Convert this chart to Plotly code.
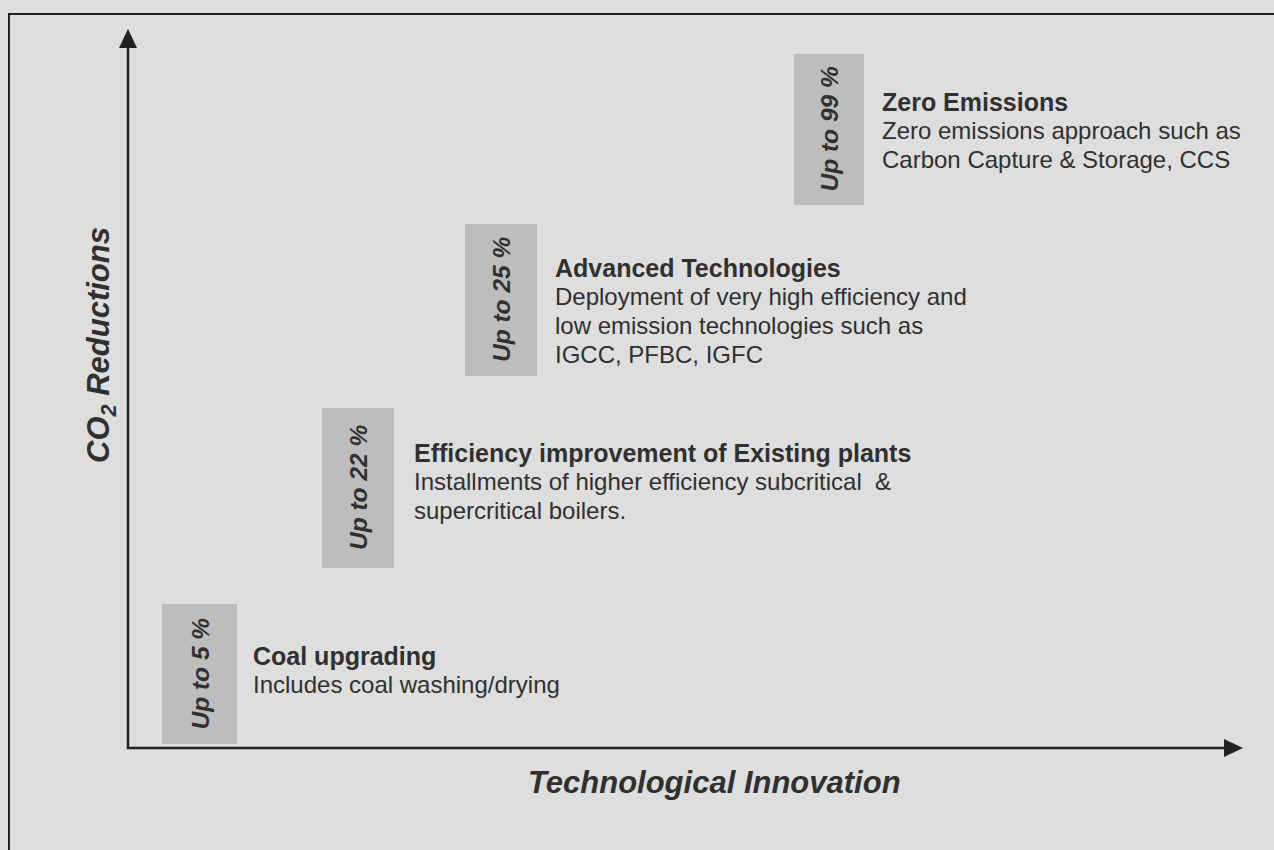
import plotly.graph_objects as go

### Diagram content ###
stages = ['Coal upgrading', 'Efficiency improvement of Existing plants',
          'Advanced Technologies', 'Zero Emissions']
reduction_pct = [5, 22, 25, 99]
descriptions = [
    ['Includes coal washing/drying'],
    ['Installments of higher efficiency subcritical  &', 'supercritical boilers.'],
    ['Deployment of very high efficiency and', 'low emission technologies such as', 'IGCC, PFBC, IGFC'],
    ['Zero emissions approach such as', 'Carbon Capture & Storage, CCS'],
]
x_title = 'Technological Innovation'
y_title = 'CO<sub>2</sub> Reductions'

### Layout of the steps (pixel space, y grows downwards) ###
box_left = [162, 322, 465, 794]
box_right = [237, 394, 537, 864]
box_top = [604, 408, 224, 54]
box_bottom = [744, 568, 376, 205]
text_left = [251, 412, 553, 880]
text_first = [656, 453, 268, 102]
line_gap = 28.7

bg = '#dedede'
box_color = '#bdbdbd'
ink = '#303030'
font = 'Liberation Sans, Arial, sans-serif'

fig = go.Figure()

fig.add_trace(go.Bar(
    x=[(l + r) / 2 for l, r in zip(box_left, box_right)],
    y=[b - t for t, b in zip(box_top, box_bottom)],
    base=box_top,
    width=[r - l for l, r in zip(box_left, box_right)],
    marker_color=box_color,
    marker_line_width=0,
    hoverinfo='skip',
    showlegend=False,
))

annotations = []
for i, stage in enumerate(stages):
    annotations.append(dict(
        x=(box_left[i] + box_right[i]) / 2, y=(box_top[i] + box_bottom[i]) / 2,
        xref='x', yref='y', text=f'<b><i>Up to {reduction_pct[i]} %</i></b>',
        textangle=-90, showarrow=False, font=dict(family=font, size=24.5, color=ink),
    ))
    lines = [f'<b>{stage}</b>'] + descriptions[i]
    for j, line in enumerate(lines):
        annotations.append(dict(
            x=text_left[i], y=text_first[i] + j * line_gap, xref='x', yref='y',
            text=line, showarrow=False, xanchor='left', yanchor='middle',
            font=dict(family=font, size=25 if j == 0 else 24, color=ink),
        ))

annotations.append(dict(
    x=714, y=782, xref='x', yref='y', text=f'<b><i>{x_title}</i></b>',
    showarrow=False, font=dict(family=font, size=31, color=ink),
))
annotations.append(dict(
    x=101, y=345, xref='x', yref='y', text=f'<b><i>{y_title}</i></b>',
    textangle=-90, showarrow=False, font=dict(family=font, size=31, color=ink),
))

shapes = [
    # outer frame
    dict(type='rect', xref='x', yref='y', x0=9, y0=14, x1=1300, y1=870,
         line=dict(color='#222222', width=2)),
    # y axis
    dict(type='line', xref='x', yref='y', x0=128, y0=749, x1=128, y1=44,
         line=dict(color='#222222', width=2.5)),
    dict(type='path', xref='x', yref='y', path='M 119 48 L 128 29 L 137 48 Z',
         fillcolor='#222222', line=dict(width=0)),
    # x axis
    dict(type='line', xref='x', yref='y', x0=127, y0=748, x1=1228, y1=748,
         line=dict(color='#222222', width=2.5)),
    dict(type='path', xref='x', yref='y', path='M 1224 739 L 1243 748 L 1224 757 Z',
         fillcolor='#222222', line=dict(width=0)),
]

fig.update_layout(
    width=1274, height=850,
    margin=dict(l=0, r=0, t=0, b=0),
    paper_bgcolor=bg, plot_bgcolor=bg,
    xaxis=dict(range=[0, 1274], visible=False, fixedrange=True),
    yaxis=dict(range=[850, 0], visible=False, fixedrange=True),
    annotations=annotations, shapes=shapes,
    bargap=0,
)

# drop the browser's default page margin so the figure sits at the window corner
fig.write_html('out.html', config={'displayModeBar': False},
               post_script="document.body.style.margin='0';")
